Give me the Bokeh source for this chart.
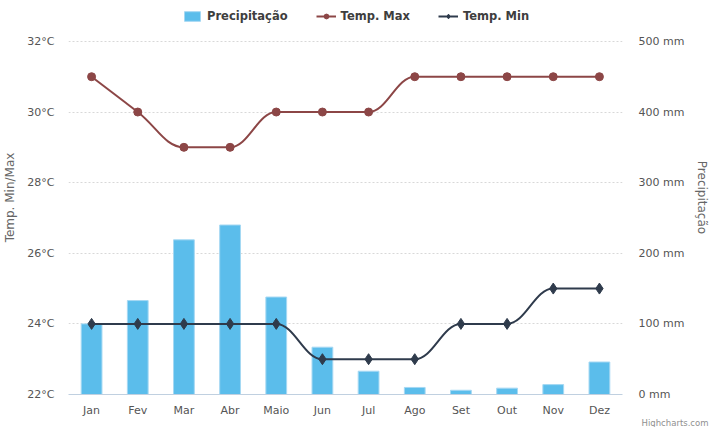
from bokeh.plotting import figure
from bokeh.models import (FactorRange, Range1d, LinearAxis, FixedTicker, PrintfTickFormatter,
                          ColumnDataSource, Legend, LegendItem, Title)
from bokeh.embed import file_html
from bokeh.resources import INLINE

# ---- data ----
months = ["Jan", "Fev", "Mar", "Abr", "Maio", "Jun", "Jul", "Ago", "Set", "Out", "Nov", "Dez"]
precip_mm = [100, 133, 219, 240, 138, 67, 33, 10, 6, 9, 14, 46]
temp_max = [31, 30, 29, 29, 30, 30, 30, 31, 31, 31, 31, 31]
temp_min = [24, 24, 24, 24, 24, 23, 23, 23, 24, 24, 25, 25]
temp_ticks = [22, 24, 26, 28, 30, 32]
precip_ticks = [0, 100, 200, 300, 400, 500]

FONT = "DejaVu Sans"
MAX_COLOR = "#8C4646"
MIN_COLOR = "#2F3B4C"
BAR_COLOR = "#5BBDEB"
LABEL_COLOR = "#555555"

# the frame starts at the top of the canvas; the strip above the highest
# tick holds the legend (so that it is not clipped)
HEADROOM_PX = 41
PLOT_PX = 354
temp_top = temp_ticks[-1] + (temp_ticks[-1] - temp_ticks[0]) * HEADROOM_PX / PLOT_PX
precip_top = precip_ticks[-1] + (precip_ticks[-1] - precip_ticks[0]) * HEADROOM_PX / PLOT_PX


def spline_source(values):
    """Bezier control points as Highcharts' spline series computes them."""
    smoothing = 1.5
    denom = smoothing + 1
    n = len(values)
    left = [None] * n
    right = [None] * n
    for i in range(1, n - 1):
        x, y = i, values[i]
        lx, ly = i - 1, values[i - 1]
        nx, ny = i + 1, values[i + 1]
        lcx = (smoothing * x + lx) / denom
        lcy = (smoothing * y + ly) / denom
        rcx = (smoothing * x + nx) / denom
        rcy = (smoothing * y + ny) / denom
        corr = ((rcy - lcy) * (rcx - x)) / (rcx - lcx) + y - rcy
        lcy += corr
        rcy += corr
        if lcy > ly and lcy > y:
            lcy = max(ly, y); rcy = 2 * y - lcy
        elif lcy < ly and lcy < y:
            lcy = min(ly, y); rcy = 2 * y - lcy
        if rcy > ny and rcy > y:
            rcy = max(ny, y); lcy = 2 * y - rcy
        elif rcy < ny and rcy < y:
            rcy = min(ny, y); lcy = 2 * y - rcy
        left[i] = (lcx - x, lcy)
        right[i] = (rcx - x, rcy)
    d = dict(x0=[], y0=[], x1=[], y1=[], cx0=[], cy0=[], cx1=[], cy1=[])
    for i in range(1, n):
        a, b = i - 1, i
        ro = right[a] if right[a] else (0.0, values[a])
        lo = left[b] if left[b] else (0.0, values[b])
        d["x0"].append((months[a], 0.0)); d["y0"].append(values[a])
        d["cx0"].append((months[a], ro[0])); d["cy0"].append(ro[1])
        d["cx1"].append((months[b], lo[0])); d["cy1"].append(lo[1])
        d["x1"].append((months[b], 0.0)); d["y1"].append(values[b])
    return ColumnDataSource(d)


p = figure(width=712, height=427, x_range=FactorRange(*months),
           y_range=Range1d(temp_ticks[0], temp_top), title=None,
           output_backend="svg", toolbar_location=None,
           min_border_left=68, min_border_right=89, min_border_top=0, min_border_bottom=32)
p.extra_y_ranges = {"precip": Range1d(precip_ticks[0], precip_top)}
p.outline_line_color = None
p.background_fill_color = "white"
p.border_fill_color = "white"

p.xgrid.grid_line_color = None
p.ygrid.ticker = FixedTicker(ticks=temp_ticks)
p.ygrid.grid_line_color = "#D8D8D8"
p.ygrid.grid_line_dash = "2 2"


def style_axis(ax, standoff):
    ax.major_tick_line_color = None
    ax.minor_tick_line_color = None
    ax.major_tick_out = 0
    ax.major_tick_in = 0
    ax.minor_tick_out = 0
    ax.minor_tick_in = 0
    ax.major_label_standoff = standoff
    ax.major_label_text_font = FONT
    ax.major_label_text_font_size = "11px"
    ax.major_label_text_color = LABEL_COLOR
    ax.axis_label_text_font = FONT
    ax.axis_label_text_font_size = "12px"
    ax.axis_label_text_font_style = "normal"
    ax.axis_label_text_color = "#666666"


xa = p.xaxis[0]
style_axis(xa, 9)
xa.axis_line_color = "#C0D0E0"

ya = p.yaxis[0]
ya.ticker = FixedTicker(ticks=temp_ticks)
ya.formatter = PrintfTickFormatter(format="%d°C")
style_axis(ya, 14)
ya.axis_line_color = None
ya.axis_label = "Temp. Min/Max"
ya.axis_label_standoff = 7

ra = LinearAxis(y_range_name="precip", ticker=FixedTicker(ticks=precip_ticks),
                formatter=PrintfTickFormatter(format="%d mm"))
style_axis(ra, 16)
ra.axis_line_color = None
ra.axis_label = "Precipitação"
ra.axis_label_standoff = 8
p.add_layout(ra, "right")

bars = p.vbar(x=months, top=precip_mm, bottom=0, width=0.45, y_range_name="precip",
              fill_color=BAR_COLOR, line_color="#A5D8F3", line_width=1)

max_line = p.bezier(x0="x0", y0="y0", x1="x1", y1="y1", cx0="cx0", cy0="cy0",
                    cx1="cx1", cy1="cy1", source=spline_source(temp_max),
                    line_color=MAX_COLOR, line_width=2)
max_pts = p.scatter(x=months, y=temp_max, marker="circle", size=8,
                    fill_color=MAX_COLOR, line_color=MAX_COLOR)
min_line = p.bezier(x0="x0", y0="y0", x1="x1", y1="y1", cx0="cx0", cy0="cy0",
                    cx1="cx1", cy1="cy1", source=spline_source(temp_min),
                    line_color=MIN_COLOR, line_width=2)
min_pts = p.scatter(x=months, y=temp_min, marker="diamond", size=11,
                    fill_color=MIN_COLOR, line_color=MIN_COLOR)

legend = Legend(items=[LegendItem(label="Precipitação", renderers=[bars]),
                       LegendItem(label="Temp. Max", renderers=[max_line, max_pts]),
                       LegendItem(label="Temp. Min", renderers=[min_line, min_pts])],
                orientation="horizontal", location=(114, 371),
                background_fill_alpha=0, border_line_color=None,
                label_text_font=FONT, label_text_font_size="11.5px",
                label_text_font_style="bold", label_text_color="#3E3E3E",
                glyph_width=20, glyph_height=12, label_standoff=5, spacing=28,
                padding=4, margin=0)
p.add_layout(legend)

credit = Title(text="Highcharts.com", align="right", vertical_align="top", offset=-86,
               standoff=-4, text_font=FONT, text_font_size="8.5px",
               text_font_style="normal", text_color="#909090")
p.add_layout(credit, "below")

open("out.html", "w").write(file_html(p, INLINE))
